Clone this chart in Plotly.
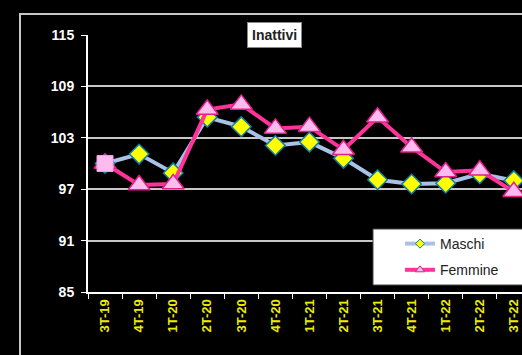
import plotly.graph_objects as go

categories = ["3T-19", "4T-19", "1T-20", "2T-20", "3T-20", "4T-20", "1T-21",
              "2T-21", "3T-21", "4T-21", "1T-22", "2T-22", "3T-22"]
maschi = [100.0, 101.1, 98.9, 105.4, 104.3, 102.1, 102.5, 100.6, 98.1, 97.6, 97.7, 98.8, 98.0]
femmine = [100.0, 97.5, 97.6, 106.3, 106.9, 104.1, 104.3, 101.6, 105.4, 101.9, 99.0, 99.2, 96.7]
y_ticks = [85, 91, 97, 103, 109, 115]

W, H = 522, 355
L, T, B, R = 88, 35, 63, 0
pw, ph = W - L - R, H - T - B

M_LINE, M_FILL, M_EDGE = "#a9c3e8", "#ffff00", "#0a7fa8"
F_LINE, F_FILL, F_EDGE = "#ff3399", "#ffbbee", "#e0208a"
FONT = "Arial, Liberation Sans, sans-serif"


def px(x):
    return (x - L) / pw


def py(y):
    return (H - B - y) / ph


fig = go.Figure()
fig.add_trace(go.Scatter(
    x=categories, y=maschi, name="Maschi", mode="lines+markers",
    line=dict(color=M_LINE, width=4),
    marker=dict(symbol="diamond", size=15, color=M_FILL, opacity=1,
                line=dict(color=M_EDGE, width=1.5)),
    showlegend=False,
))
fig.add_trace(go.Scatter(
    x=categories, y=femmine, name="Femmine", mode="lines+markers",
    line=dict(color=F_LINE, width=4),
    marker=dict(symbol="triangle-up", size=19, color=F_FILL, opacity=1,
                line=dict(color=F_EDGE, width=1.5)),
    showlegend=False,
))
# first Femmine point drawn as a square (as in the original)
fig.add_trace(go.Scatter(
    x=categories[:1], y=femmine[:1], mode="markers",
    marker=dict(symbol="square", size=16, color=F_FILL, opacity=1,
                line=dict(color="#f0a0e0", width=1)),
    showlegend=False, hoverinfo="skip",
))
# legend entries
fig.add_trace(go.Scatter(
    x=[None], y=[None], name="Maschi", mode="lines+markers",
    line=dict(color=M_LINE, width=4),
    marker=dict(symbol="diamond", size=7, color=M_FILL, line=dict(color=M_EDGE, width=1)),
    legendgroup="m",
))
fig.add_trace(go.Scatter(
    x=[None], y=[None], name="Femmine", mode="lines+markers",
    line=dict(color=F_LINE, width=4),
    marker=dict(symbol="triangle-up", size=8, color=F_FILL, line=dict(color=F_EDGE, width=1)),
    legendgroup="f",
))

fig.update_layout(
    width=W, height=H,
    margin=dict(l=L, r=R, t=T, b=B),
    paper_bgcolor="black", plot_bgcolor="black",
    font=dict(family=FONT, color="white"),
    showlegend=True,
    legend=dict(
        x=px(400), y=py(228), xanchor="left", yanchor="top",
        bgcolor="rgba(0,0,0,0)", borderwidth=0,
        font=dict(color="#222222", size=14, family=FONT),
        tracegroupgap=5, traceorder="grouped",
    ),
    xaxis=dict(
        type="category", range=[-0.5, 12.24],
        tickson="boundaries", ticks="outside", ticklen=5, tickcolor="white",
        tickangle=-90, showgrid=False, showline=True, linecolor="white", linewidth=2,
        tickfont=dict(color="#ecec00", size=13, family=FONT, weight="bold"),
        fixedrange=True,
    ),
    yaxis=dict(
        range=[85, 115], tickvals=y_ticks, ticks="outside", ticklen=5,
        tickcolor="white", showline=True, linecolor="white", linewidth=2,
        showgrid=True, gridcolor="#c8c8c8", gridwidth=1.5, zeroline=False,
        tickfont=dict(color="white", size=14, family=FONT, weight="bold"),
        ticklabelstandoff=4,
    ),
    shapes=[
        dict(type="rect", xref="paper", yref="paper",
             x0=px(20), x1=1.3, y0=py(380), y1=py(14),
             line=dict(color="#c8c8c8", width=2), layer="below"),
        dict(type="rect", xref="paper", yref="paper",
             x0=px(373), x1=1.05, y0=py(285), y1=py(229),
             fillcolor="white", line=dict(color="#444444", width=1), layer="above"),
    ],
    annotations=[
        dict(text="Inattivi", xref="paper", yref="paper",
             x=px(274), y=py(35), xanchor="center", yanchor="middle",
             showarrow=False, bgcolor="white", bordercolor="#888888", borderwidth=1,
             borderpad=4,
             font=dict(color="#222222", size=14, family=FONT, weight="bold")),
    ],
)

fig.write_html("out.html")
